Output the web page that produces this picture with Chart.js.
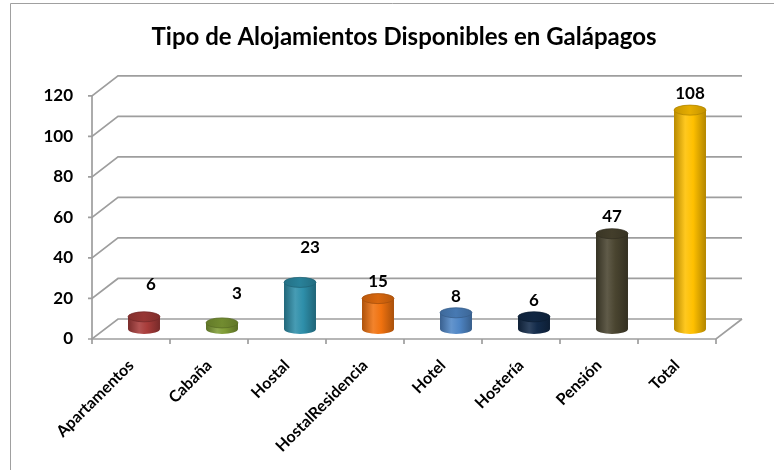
<!DOCTYPE html>
<html>
<head>
<meta charset="utf-8">
<script src="https://cdn.jsdelivr.net/npm/chart.js@4/dist/chart.umd.min.js"></script>
<style>
  html, body { margin: 0; padding: 0; background: #fff; }
  #wrap { width: 774px; height: 470px; position: relative; }
</style>
</head>
<body>
<div id="wrap"><canvas id="myChart"></canvas></div>
<script>
'use strict';

const categories = ['Apartamentos', 'Cabaña', 'Hostal', 'HostalResidencia', 'Hotel', 'Hostería', 'Pensión', 'Total'];
const values = [6, 3, 23, 15, 8, 6, 47, 108];
const barColors = ['#A83C3A', '#7F9C35', '#2E8FAA', '#F0720F', '#4F86C6', '#132B4A', '#4A4530', '#FFC000'];
const yMax = 120;
const yStep = 20;
const titleText = 'Tipo de Alojamientos Disponibles en Galápagos';

// 3d look: depth of the back wall, cylinders sit half way
const depthX = 26, depthY = -20;
const gridColor = '#9e9e9e';

function shade(hex, f) {
    let r = parseInt(hex.substr(1, 2), 16), g = parseInt(hex.substr(3, 2), 16), b = parseInt(hex.substr(5, 2), 16);
    if (f < 1) { r *= f; g *= f; b *= f; }
    else { r += (255 - r) * (f - 1); g += (255 - g) * (f - 1); b += (255 - b) * (f - 1); }
    return 'rgb(' + Math.round(r) + ',' + Math.round(g) + ',' + Math.round(b) + ')';
}

const frame3d = {
    id: 'frame3d',
    beforeDraw(chart) {
        const ctx = chart.ctx;
        ctx.save();
        ctx.strokeStyle = '#a0a0a0';
        ctx.lineWidth = 1;
        ctx.beginPath();
        ctx.moveTo(10.5, 470);
        ctx.lineTo(10.5, 3.5);
        ctx.lineTo(774, 3.5);
        ctx.stroke();
        ctx.restore();
    },
    beforeDatasetsDraw(chart) {
        const ctx = chart.ctx, a = chart.chartArea;
        const y = chart.scales.y, x = chart.scales.x;
        ctx.save();
        ctx.strokeStyle = gridColor;
        ctx.lineWidth = 1.7;
        y.ticks.forEach(t => {
            const py = y.getPixelForValue(t.value);
            ctx.beginPath();
            ctx.moveTo(a.left - 4, py);
            ctx.lineTo(a.left, py);
            ctx.lineTo(a.left + depthX, py + depthY);
            ctx.lineTo(a.right + depthX, py + depthY);
            ctx.stroke();
        });
        ctx.beginPath();
        ctx.moveTo(a.left, y.getPixelForValue(yMax));
        ctx.lineTo(a.left, a.bottom);
        ctx.lineTo(a.right, a.bottom);
        ctx.lineTo(a.right + depthX, a.bottom + depthY);
        ctx.stroke();
        for (let i = 0; i <= categories.length; i++) {
            const px = x.getPixelForValue(i - 0.5);
            ctx.beginPath();
            ctx.moveTo(px, a.bottom);
            ctx.lineTo(px, a.bottom + 5);
            ctx.stroke();
        }
        ctx.restore();
    },
    afterDatasetsDraw(chart, args, opts) {
        const ctx = chart.ctx;
        const meta = chart.getDatasetMeta(0);
        meta.data.forEach((el, i) => {
            const col = barColors[i];
            const cx = el.x + depthX / 2;
            const top = el.y + depthY / 2;
            const base = el.base + depthY / 2;
            const rx = el.width / 2, ry = 5;
            ctx.save();
            const g = ctx.createLinearGradient(cx - rx, 0, cx + rx, 0);
            g.addColorStop(0, shade(col, 0.72));
            g.addColorStop(0.35, shade(col, 1.12));
            g.addColorStop(0.6, col);
            g.addColorStop(1, shade(col, 0.7));
            ctx.fillStyle = g;
            ctx.beginPath();
            ctx.moveTo(cx - rx, top);
            ctx.lineTo(cx - rx, base);
            ctx.ellipse(cx, base, rx, ry, 0, Math.PI, 0, true);
            ctx.lineTo(cx + rx, top);
            ctx.closePath();
            ctx.fill();
            const g2 = ctx.createLinearGradient(cx - rx, 0, cx + rx, 0);
            g2.addColorStop(0, shade(col, 0.78));
            g2.addColorStop(0.5, shade(col, 0.9));
            g2.addColorStop(1, shade(col, 0.76));
            ctx.fillStyle = g2;
            ctx.beginPath();
            ctx.ellipse(cx, top, rx, ry, 0, 0, Math.PI * 2);
            ctx.fill();
            ctx.strokeStyle = shade(col, 0.7);
            ctx.lineWidth = 0.8;
            ctx.stroke();
            // value label
            const nudge = opts.nudge[i] || [0, 16];
            ctx.fillStyle = '#000';
            ctx.font = 'bold 17px Lato';
            ctx.textAlign = 'center';
            ctx.textBaseline = 'middle';
            ctx.fillText(String(values[i]), cx + nudge[0], top - nudge[1]);
            ctx.restore();
        });
    }
};

Chart.defaults.font.family = 'Lato';
Chart.defaults.color = '#000';

const ctx = document.getElementById('myChart').getContext('2d');
const chart = new Chart(ctx, {
    type: 'bar',
    data: {
        labels: categories,
        datasets: [{
            data: values,
            backgroundColor: 'rgba(0,0,0,0)',
            borderWidth: 0,
            barPercentage: 0.82,
            categoryPercentage: 0.5
        }]
    },
    options: {
        responsive: true,
        maintainAspectRatio: false,
        animation: false,
        layout: { padding: { left: 0, right: 58, top: 0, bottom: 0 } },
        plugins: {
            legend: { display: false },
            tooltip: { enabled: false },
            title: {
                display: true,
                text: titleText,
                fullSize: false,
                font: { size: 24, weight: 'bold', family: 'Lato' },
                color: '#000',
                padding: { top: 23, bottom: 44 }
            },
            frame3d: {
                nudge: [[7, 32], [15, 29], [10, 35], [0, 17], [0, 16], [0, 16], [0, 17], [0, 17]]
            }
        },
        scales: {
            x: {
                grid: { display: false, drawTicks: false },
                border: { display: false },
                ticks: {
                    font: { size: 16, weight: 'bold' },
                    maxRotation: 45,
                    minRotation: 45,
                    padding: 17
                },
                afterFit(scale) { scale.height = 131; }
            },
            y: {
                min: 0,
                max: yMax,
                grid: { display: false, drawTicks: false },
                border: { display: false },
                ticks: {
                    stepSize: yStep,
                    font: { size: 17, weight: 'bold' },
                    padding: 19
                },
                afterFit(scale) { scale.width = 92; }
            }
        }
    },
    plugins: [frame3d]
});
</script>
</body>
</html>
